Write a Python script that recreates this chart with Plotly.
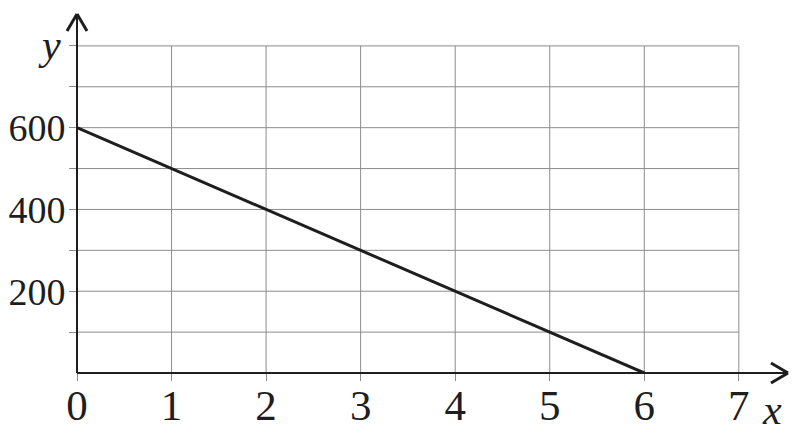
import plotly.graph_objects as go

# data: straight line from (0, 600) to (6, 0)
x_vals = [0, 1, 2, 3, 4, 5, 6]
y_vals = [600, 500, 400, 300, 200, 100, 0]

x_ticks = [0, 1, 2, 3, 4, 5, 6, 7]
x_ticktext = ['0', '1', '2', '3', '4', '5', '6', '7']
y_ticks = [100, 200, 300, 400, 500, 600, 700, 800]
y_ticktext = ['', '200', '', '400', '', '600', '', '']

serif = 'Liberation Serif'
grid_col = '#8c8c8c'
ink = '#1e1e1e'

fig = go.Figure()

fig.add_trace(go.Scatter(
    x=x_vals, y=y_vals, mode='lines',
    line=dict(color=ink, width=3),
    showlegend=False, hoverinfo='skip',
))

# grid lines stop at x=7 and y=800
shapes = []
for xv in x_ticks[1:]:
    shapes.append(dict(type='line', xref='x', yref='y', x0=xv, x1=xv,
                       y0=0, y1=max(y_ticks), line=dict(color=grid_col, width=1), layer='below'))
for yv in y_ticks:
    shapes.append(dict(type='line', xref='x', yref='y', x0=0, x1=max(x_ticks),
                       y0=yv, y1=yv, line=dict(color=grid_col, width=1), layer='below'))

# axes
shapes.append(dict(type='line', xref='paper', yref='paper', x0=0, x1=1, y0=0, y1=0,
                   line=dict(color=ink, width=2)))
shapes.append(dict(type='line', xref='paper', yref='paper', x0=0, x1=0, y0=0, y1=1,
                   line=dict(color=ink, width=2)))
# open arrow heads (pixel sized, anchored at the axis ends)
for (ax, ay, dx, dy) in [(1, 0, -17, 10), (1, 0, -17, -10), (0, 1, -10, -17), (0, 1, 10, -17)]:
    shapes.append(dict(type='line', xref='paper', yref='paper',
                       xsizemode='pixel', ysizemode='pixel', xanchor=ax, yanchor=ay,
                       x0=0, y0=0, x1=dx, y1=dy, line=dict(color=ink, width=3)))

fig.update_layout(
    width=800, height=442,
    margin=dict(l=69, r=20, t=6, b=77),
    paper_bgcolor='white', plot_bgcolor='white',
    shapes=shapes,
    xaxis=dict(range=[0, 7.52], tickvals=x_ticks, ticktext=x_ticktext,
               showgrid=False, zeroline=False, showline=False, automargin=False,
               ticks='outside', ticklen=7, tickcolor=grid_col, tickwidth=1,
               ticklabelstandoff=-13, tickfont=dict(family=serif, size=43, color=ink)),
    yaxis=dict(range=[0, 878], tickvals=y_ticks, ticktext=y_ticktext,
               showgrid=False, zeroline=False, showline=False, automargin=False,
               ticks='outside', ticklen=7, tickcolor=grid_col, tickwidth=1,
               ticklabelstandoff=-4, tickfont=dict(family=serif, size=38, color=ink)),
    annotations=[
        dict(text='<i>y</i>', x=0, y=1, xref='paper', yref='paper', showarrow=False,
             xanchor='right', yanchor='top', xshift=-14, yshift=-6,
             font=dict(family=serif, size=42, color=ink)),
        dict(text='<i>x</i>', x=1, y=0, xref='paper', yref='paper', showarrow=False,
             xanchor='right', yanchor='top', xshift=-4, yshift=-12,
             font=dict(family=serif, size=42, color=ink)),
    ],
)

fig.write_html('out.html')
